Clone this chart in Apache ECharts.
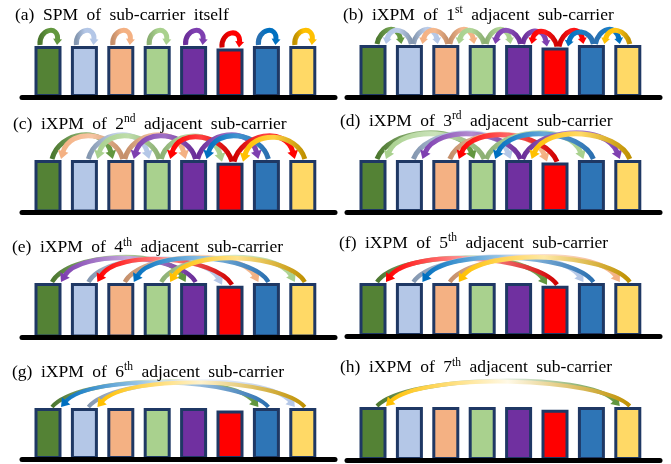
<!DOCTYPE html>
<html>
<head>
<meta charset="utf-8">
<script src="https://cdn.jsdelivr.net/npm/echarts@6/dist/echarts.min.js"></script>
<style>
  html, body { margin: 0; padding: 0; background: #fff; }
  #chart { width: 671px; height: 464px; }
</style>
</head>
<body>
<div id="chart"></div>
<script>
// Eight sub-carriers, each drawn as a coloured bar
const subCarriers = ['SC1', 'SC2', 'SC3', 'SC4', 'SC5', 'SC6', 'SC7', 'SC8'];
const barHeights = [1, 1, 1, 1, 1, 0.95, 1, 1];
const barColors = ['#548235', '#b4c7e7', '#f4b183', '#a9d18e', '#7030a0', '#ff0000', '#2e75b6', '#ffd966'];
// Arrow colours: shade where an arrow leaves its sub-carrier, and where it lands
const arrowStartColors = ['#4b772e', '#8497b0', '#c58f6a', '#8cb073', '#6a2c98', '#d00000', '#2a6fb0', '#bf9000'];
const arrowEndColors = ['#62973f', '#b4c7e7', '#f4b183', '#a9d18e', '#7e3fb0', '#ff0000', '#0070c0', '#ffc000'];

// Panels: letter, adjacency order (0 = the sub-carrier itself), ordinal suffix
const panelLetters = ['a', 'b', 'c', 'd', 'e', 'f', 'g', 'h'];
const adjacencyOrder = [0, 1, 2, 3, 4, 5, 6, 7];
const ordinalSuffix = ['', 'st', 'nd', 'rd', 'th', 'th', 'th', 'th'];

// Panel placement in pixels: grid left edge, bar top, baseline, title anchor
const panelLayout = [
  { left: 22,  top: 46,  base: 97,    tx: 15,  ty: 15 },
  { left: 347, top: 45,  base: 97,    tx: 343, ty: 15 },
  { left: 22,  top: 160, base: 212.5, tx: 13,  ty: 124 },
  { left: 347, top: 160, base: 212,   tx: 340, ty: 121 },
  { left: 22,  top: 283, base: 337.5, tx: 12,  ty: 247.5 },
  { left: 347, top: 283, base: 336,   tx: 339, ty: 243 },
  { left: 22,  top: 408, base: 459,   tx: 12,  ty: 372 },
  { left: 347, top: 407, base: 460,   tx: 340, ty: 367.5 }
];
const gridWidth = 313;
const pitch = 36.4;          // pixels between neighbouring bar centres
const firstCentre = 26;      // first bar centre from the grid's left edge

// Arc styling by adjacency order
const arcPeak = [12, 11, 20, 22, 21, 22, 22, 22];
const arcWidth = [5, 5, 5, 5, 4.5, 4.5, 4, 4];
const arcFade = [0, 0.1, 0.25, 0.4, 0.55, 0.65, 0.8, 0.9];

function hexToRgb(h) {
  const n = parseInt(h.slice(1), 16);
  return [(n >> 16) & 255, (n >> 8) & 255, n & 255];
}
function tint(h, t) {
  const c = hexToRgb(h).map(v => Math.round(v + (255 - v) * t));
  return 'rgb(' + c.join(',') + ')';
}

function arrowsFor(k) {
  const list = [];
  if (k === 0) {
    for (let i = 0; i < subCarriers.length; i++) list.push([i, i, barHeights[i], barHeights[i]]);
    return list;
  }
  for (let i = 0; i + k < subCarriers.length; i++) {
    list.push([i, i + k, barHeights[i], barHeights[i + k]]);
    list.push([i + k, i, barHeights[i + k], barHeights[i]]);
  }
  return list;
}

function makeArrowRenderer(k) {
  return function (params, api) {
    const from = api.value(0), to = api.value(1);
    const a = api.coord([from, api.value(2)]);
    const b = api.coord([to, api.value(3)]);
    let sx, ex;
    if (k === 0) { sx = a[0] - 8; ex = a[0] + 9; }
    else if (to > from) { sx = a[0] + 4; ex = b[0] - 8; }
    else { sx = a[0] + 2; ex = b[0] + 13; }
    const sy = a[1] - 1, ey = b[1] - 1;
    const lift = (arcPeak[k] + (to > from ? 1 : 0)) / 0.75;
    const s = k === 0 ? -0.1 : 0.12;
    const dx = ex - sx;
    const c1 = [sx + s * dx, sy - lift];
    const c2 = [ex - s * dx, ey - lift];
    // tangent at the arrow tip
    let tx = ex - c2[0], ty = ey - c2[1];
    const tl = Math.hypot(tx, ty) || 1;
    tx /= tl; ty /= tl;
    const headLen = k <= 1 ? 6 : 8;
    const headHalf = k <= 1 ? 4.5 : 5.5;
    const bx = ex - tx * headLen, by = ey - ty * headLen;
    const lineEnd = [ex - tx * headLen * 0.8, ey - ty * headLen * 0.8];
    const c2s = [c2[0] - tx * headLen * 0.8, c2[1] - ty * headLen * 0.8];
    const startC = arrowStartColors[from];
    const endC = arrowEndColors[from];
    const grad = new echarts.graphic.LinearGradient(sx, 0, ex, 0, [
      { offset: 0, color: startC },
      { offset: 0.5, color: tint(endC, arcFade[k]) },
      { offset: 1, color: endC }
    ], true);
    return {
      type: 'group',
      children: [
        {
          type: 'bezierCurve',
          shape: { x1: sx, y1: sy, cpx1: c1[0], cpy1: c1[1], cpx2: c2s[0], cpy2: c2s[1], x2: lineEnd[0], y2: lineEnd[1] },
          style: { stroke: grad, lineWidth: arcWidth[k], fill: null }
        },
        {
          type: 'polygon',
          shape: { points: [[ex, ey], [bx - ty * headHalf, by + tx * headHalf], [bx + ty * headHalf, by - tx * headHalf]] },
          style: { fill: endC }
        }
      ]
    };
  };
}

// Captions: words joined by a wide space token, ordinal suffix as superscript
function titleText(letter, k) {
  const gap = '{g| }';
  if (k === 0) {
    return ['(' + letter + ')', 'SPM', 'of', 'sub-carrier', 'itself'].join(gap);
  }
  return ['(' + letter + ')', 'iXPM', 'of', k + '{sup|' + ordinalSuffix[k] + '}', 'adjacent', 'sub-carrier'].join(gap);
}

const titleFont = 'Liberation Serif';
const titles = [], grids = [], xAxes = [], yAxes = [], series = [];
panelLetters.forEach((letter, p) => {
  const L = panelLayout[p];
  const k = adjacencyOrder[p];
  titles.push({
    text: titleText(letter, k),
    left: L.tx,
    top: L.ty - 11,
    padding: 0,
    textStyle: {
      fontFamily: titleFont,
      fontSize: 17.5,
      fontWeight: 'normal',
      color: '#000',
      lineHeight: 22,
      rich: {
        g: { fontFamily: titleFont, fontSize: 34, lineHeight: 22, color: '#000' },
        sup: { fontFamily: titleFont, fontSize: 11.5, color: '#000', verticalAlign: 'top', lineHeight: 13 }
      }
    }
  });
  grids.push({ left: L.left, width: gridWidth, top: L.top, height: L.base - L.top });
  xAxes.push({
    type: 'value', gridIndex: p,
    min: -firstCentre / pitch, max: (gridWidth - firstCentre) / pitch,
    z: 5,
    axisLine: { show: true, onZero: true, lineStyle: { color: '#000', width: 5 } },
    axisTick: { show: false }, axisLabel: { show: false }, splitLine: { show: false }
  });
  yAxes.push({ type: 'value', gridIndex: p, min: 0, max: 1, show: false, splitLine: { show: false } });
  series.push({
    type: 'bar', xAxisIndex: p, yAxisIndex: p,
    barWidth: 27,
    itemStyle: { borderColor: '#1f3864', borderWidth: 3 },
    data: barHeights.map((h, j) => ({ name: subCarriers[j], value: [j, h], itemStyle: { color: barColors[j] } })),
    silent: true
  });
  series.push({
    type: 'custom', xAxisIndex: p, yAxisIndex: p,
    z: 4,
    renderItem: makeArrowRenderer(k),
    encode: { x: [0, 1], y: [2, 3] },
    data: arrowsFor(k),
    silent: true
  });
});

const chart = echarts.init(document.getElementById('chart'), null, { renderer: 'canvas' });
chart.setOption({
  animation: false,
  backgroundColor: '#fff',
  title: titles,
  grid: grids,
  xAxis: xAxes,
  yAxis: yAxes,
  series: series
});
</script>
</body>
</html>
